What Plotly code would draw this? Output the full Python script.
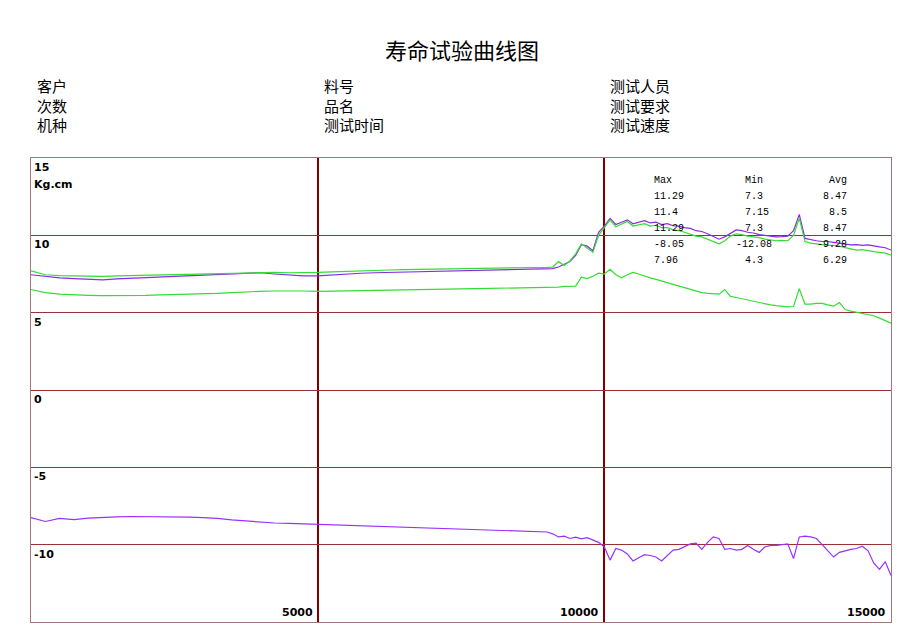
import plotly.graph_objects as go

# sample positions (cycles)
x_early = [0, 250, 500, 750, 1000, 1250, 1500, 1750, 2000, 2250, 2500, 2750, 3000,
           3250, 3500, 3750, 4000, 4250, 4500, 4750, 5000, 5250, 5500, 5750, 6000,
           6250, 6500, 6750, 7000, 7250, 7500, 7750, 8000, 8250, 8500, 8750, 9000]
x_late = [9100, 9200, 9300, 9400, 9500, 9600, 9700, 9800, 9900, 10000,
          10100, 10200, 10300, 10400, 10500, 10600, 10700, 10800, 10900, 11000,
          11100, 11200, 11300, 11400, 11500, 11600, 11700, 11800, 11900, 12000,
          12100, 12200, 12300, 12400, 12500, 12600, 12700, 12800, 12900, 13000,
          13100, 13200, 13300, 13400, 13500, 13600, 13700, 13800, 13900, 14000,
          14100, 14200, 14300, 14400, 14500, 14600, 14700, 14800, 14900, 15000]
cycles = x_early + x_late

# upper purple (Max 11.4 / Min 7.15 / Avg 8.5)
purple_upper = [7.45, 7.35, 7.25, 7.2, 7.15, 7.12, 7.18, 7.22, 7.25, 7.3, 7.33, 7.36, 7.4,
                7.44, 7.5, 7.55, 7.58, 7.5, 7.42, 7.38, 7.38, 7.45, 7.5, 7.55, 7.58,
                7.6, 7.62, 7.64, 7.66, 7.7, 7.72, 7.73, 7.75, 7.76, 7.76, 7.78, 7.8,
                7.85, 7.95, 8.1, 8.3, 8.7, 9.4, 9.3, 9.0, 10.2, 10.6,
                11.1, 10.7, 10.85, 11.0, 10.75, 10.85, 10.95, 10.8, 10.85, 10.7,
                10.75, 10.62, 10.6, 10.5, 10.45, 10.3, 10.25, 10.1, 9.95, 9.75,
                9.9, 10.15, 10.35, 10.3, 10.2, 10.15, 10.05, 10.0, 9.95, 9.9,
                9.92, 9.95, 10.3, 11.35, 9.8, 9.7, 9.65, 9.6, 9.6, 9.55,
                9.5, 9.45, 9.38, 9.4, 9.35, 9.38, 9.3, 9.25, 9.2, 9.05]

# upper green (Max 11.29 / Min 7.3 / Avg 8.47)
green_upper = [7.7, 7.45, 7.4, 7.38, 7.36, 7.35, 7.38, 7.4, 7.42, 7.45, 7.48, 7.5, 7.5,
               7.52, 7.55, 7.6, 7.62, 7.6, 7.58, 7.58, 7.6, 7.64, 7.68, 7.72, 7.75,
               7.76, 7.78, 7.8, 7.82, 7.84, 7.86, 7.86, 7.88, 7.9, 7.9, 7.92, 7.93,
               7.95, 8.3, 8.05, 8.35, 8.8, 9.45, 9.2, 8.9, 10.0, 10.5,
               11.0, 10.55, 10.7, 10.9, 10.6, 10.7, 10.75, 10.6, 10.65, 10.5,
               10.5, 10.35, 10.3, 10.2, 10.1, 9.95, 9.9, 9.75, 9.6, 9.45,
               9.65, 9.95, 10.1, 10.05, 9.95, 9.9, 9.85, 9.75, 9.7, 9.65,
               9.68, 9.65, 10.0, 11.1, 9.6, 9.5, 9.45, 9.4, 9.35, 9.35,
               9.3, 9.2, 9.1, 9.05, 9.08, 9.0, 8.95, 8.9, 8.85, 8.72]

# lower green (Max 7.96 / Min 4.3 / Avg 6.29)
green_lower = [6.5, 6.3, 6.2, 6.15, 6.12, 6.1, 6.1, 6.12, 6.12, 6.15, 6.17, 6.2, 6.22,
               6.25, 6.3, 6.35, 6.38, 6.4, 6.42, 6.4, 6.38, 6.4, 6.42, 6.44, 6.45,
               6.47, 6.48, 6.5, 6.52, 6.55, 6.55, 6.56, 6.57, 6.58, 6.6, 6.6, 6.62,
               6.62, 6.65, 6.7, 6.7, 6.72, 7.3, 7.2, 7.35, 7.55, 7.5,
               7.8, 7.45, 7.25, 7.45, 7.6, 7.5, 7.35, 7.25, 7.15, 7.05,
               6.95, 6.85, 6.75, 6.62, 6.5, 6.42, 6.3, 6.25, 6.22, 6.2,
               6.5, 6.05, 5.98, 5.9, 5.8, 5.72, 5.65, 5.58, 5.5, 5.45,
               5.4, 5.38, 5.4, 6.55, 5.55, 5.55, 5.6, 5.6, 5.5, 5.42,
               5.65, 5.2, 5.1, 5.02, 4.95, 4.88, 4.8, 4.65, 4.5, 4.32]

# lower purple (Max -8.05 / Min -12.08 / Avg -9.28)
purple_lower = [-8.25, -8.5, -8.3, -8.38, -8.28, -8.22, -8.2, -8.18, -8.18, -8.18, -8.2, -8.22, -8.25,
                -8.3, -8.4, -8.48, -8.55, -8.6, -8.62, -8.65, -8.7, -8.75, -8.78, -8.8, -8.83,
                -8.85, -8.88, -8.9, -8.95, -9.0, -9.02, -9.05, -9.08, -9.1, -9.12, -9.15, -9.18,
                -9.3, -9.5, -9.45, -9.6, -9.52, -9.62, -9.55, -9.7, -9.85, -10.15,
                -11.0, -10.25, -10.35, -10.6, -11.05, -10.85, -10.65, -10.7, -10.8, -11.05,
                -10.7, -10.35, -10.3, -10.15, -9.95, -9.9, -10.3, -9.85, -9.5, -9.6,
                -10.3, -10.25, -10.35, -10.3, -10.05, -10.3, -10.5, -10.15, -10.05, -10.05,
                -10.0, -9.95, -10.9, -9.5, -9.45, -9.5, -9.6, -10.0, -10.35, -10.8,
                -10.5, -10.4, -10.3, -10.25, -10.1, -10.4, -11.2, -11.6, -11.1, -12.0]

stat_rows = [["11.29", "7.3", "8.47"],
             ["11.4", "7.15", "8.5"],
             ["11.29", "7.3", "8.47"],
             ["-8.05", "-12.08", "-9.28"],
             ["7.96", "4.3", "6.29"]]

y_ticks = [15, 10, 5, 0, -5, -10]
x_ticks = [5000, 10000, 15000]

header = [["客户", "次数", "机种"],
          ["料号", "品名", "测试时间"],
          ["测试人员", "测试要求", "测试速度"]]

PURPLE = "#8a2be2"
GREEN = "#33dd33"
CJK = "Noto Sans CJK SC"
W, H = 900, 625
OFF = 8  # page body margin
# plot box on the page: x 31..891, y 158..622
L, T = 31 - OFF, 158 - OFF
R, B = W - (891 - OFF), H - (622 - OFF)
PW, PH = 891 - 31, 622 - 158


def px_x(px):
    return (px - 31) / PW


def px_y(py):
    return (622 - py) / PH


fig = go.Figure()
for ys, col in [(purple_upper, PURPLE), (green_upper, GREEN),
                (green_lower, GREEN), (purple_lower, "#9b30ff")]:
    fig.add_trace(go.Scatter(x=cycles, y=ys, mode="lines",
                             line=dict(color=col, width=1.2), hoverinfo="skip"))

ann = []
ann.append(dict(text="寿命试验曲线图", x=px_x(462), y=px_y(49), xref="paper", yref="paper",
                xanchor="center", yanchor="middle", showarrow=False,
                font=dict(family=CJK, size=22, color="#000")))
for col_px, items in zip([35, 322, 608], header):
    ann.append(dict(text="<br>".join(items), x=px_x(col_px), y=px_y(105), xref="paper",
                    yref="paper", xanchor="left", yanchor="middle", align="left",
                    showarrow=False, font=dict(family=CJK, size=15, color="#000")))

for v in y_ticks:
    ann.append(dict(text="<b>%d</b>" % v, x=0, y=v, xref="x", yref="y", xanchor="left",
                    yanchor="top", xshift=1, yshift=-1, showarrow=False,
                    font=dict(family="DejaVu Sans", size=11, color="#000")))
ann.append(dict(text="<b>Kg.cm</b>", x=0, y=15, xref="x", yref="y", xanchor="left",
                yanchor="top", xshift=1, yshift=-18, showarrow=False,
                font=dict(family="DejaVu Sans", size=11, color="#000")))
for v in x_ticks:
    ann.append(dict(text="<b>%d</b>" % v, x=v, y=-15, xref="x", yref="y", xanchor="right",
                    yanchor="bottom", xshift=-3, yshift=1, showarrow=False,
                    font=dict(family="DejaVu Sans", size=11, color="#000")))

mono = dict(family="Liberation Mono", size=10, color="#000")
for t, x0, anc in [("Max", 652, "left"), ("Min", 743, "left"), ("Avg", 849, "right")]:
    ann.append(dict(text=t, x=px_x(x0), y=px_y(181), xref="paper", yref="paper",
                    xanchor=anc, yanchor="middle", showarrow=False, font=mono))
for ri, row in enumerate(stat_rows):
    yy = px_y(196.5 + ri * 16)
    mn = row[1]
    ann.append(dict(text=row[0], x=px_x(652), y=yy, xref="paper", yref="paper",
                    xanchor="left", yanchor="middle", showarrow=False, font=mono))
    ann.append(dict(text=mn, x=px_x(743 - (9 if mn.startswith("-") else 0)), y=yy,
                    xref="paper", yref="paper", xanchor="left", yanchor="middle",
                    showarrow=False, font=mono))
    ann.append(dict(text=row[2], x=px_x(849), y=yy, xref="paper", yref="paper",
                    xanchor="right", yanchor="middle", showarrow=False, font=mono))

fig.update_layout(
    width=W, height=H,
    margin=dict(l=L, r=R, t=T, b=B),
    paper_bgcolor="white", plot_bgcolor="white",
    showlegend=False,
    annotations=ann,
    xaxis=dict(range=[0, 15000], tickvals=[5000, 10000], showticklabels=False,
               gridcolor="#800000", gridwidth=2, zeroline=False,
               showline=True, linecolor="#a07878", linewidth=1, mirror=True, ticks=""),
    yaxis=dict(range=[-15, 15], tickvals=[-10, -5, 0, 5, 10], showticklabels=False,
               gridcolor="#993333", gridwidth=1, zeroline=False,
               showline=True, linecolor="#a07878", linewidth=1, mirror=True, ticks=""),
)

fig.write_html("out.html")
